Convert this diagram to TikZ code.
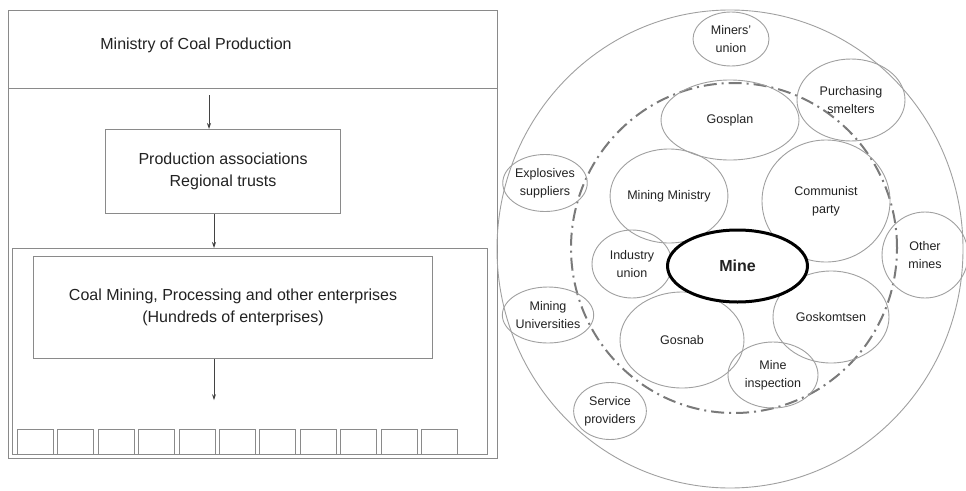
\documentclass[tikz,border=0pt]{standalone}
\usepackage{fontspec}
\setmainfont{Liberation Sans}
\usetikzlibrary{shapes.geometric,arrows.meta}
\definecolor{ink}{HTML}{222222}
\definecolor{frameline}{HTML}{8A8A8A}
\definecolor{ringline}{HTML}{A0A0A0}
\definecolor{dashline}{HTML}{7A7A7A}
\tikzset{
  panel/.style={draw=frameline,line width=1.1pt,rectangle,inner sep=0pt,anchor=north west},
  orgbox/.style={draw=frameline,line width=1.1pt,rectangle,inner sep=0pt,anchor=north west,
    text=ink,align=center,font=\fontsize{16}{22}\selectfont},
  unitbox/.style={draw=frameline,line width=0.9pt,rectangle,inner sep=0pt,anchor=north west,
    minimum width=36pt,minimum height=25pt},
  arr/.style={draw=ink!85,line width=0.8pt,-{Stealth[length=6pt,width=4pt]}},
  actor/.style={draw=ringline,line width=0.9pt,ellipse,inner sep=0pt,text=ink,align=center,
    font=\fontsize{12.5}{18}\selectfont},
  boundary/.style={draw=dashline,line width=2pt,ellipse,inner sep=0pt,
    dash pattern=on 13pt off 5pt on 2pt off 5pt},
}
\begin{document}
\begin{tikzpicture}[x=1pt,y=-1pt]
\useasboundingbox (0,0) rectangle (966,490);
\fill[white] (0,0) rectangle (966,490);

% ---- left panel: administrative hierarchy ----
\node[orgbox,minimum width=489pt,minimum height=78pt] (ministry) at (8,10) {};
\node[text=ink,font=\fontsize{16}{22}\selectfont] (ministrylabel) at (196,45) {Ministry of Coal Production};
\node[panel,minimum width=489pt,minimum height=370pt] (lower) at (8,88) {};
\node[orgbox,minimum width=235pt,minimum height=84pt] (assoc) at (105,129)
  {Production associations\\Regional trusts};
\node[panel,minimum width=475pt,minimum height=206pt] (enterprises) at (12,248) {};
\node[orgbox,minimum width=399pt,minimum height=102pt] (coal) at (33,256)
  {Coal Mining, Processing and other enterprises\\(Hundreds of enterprises)};
\foreach \i in {0,...,10} {
  \node[unitbox] (unit\i) at (17+40.4*\i,429) {};
}
\coordinate (unitsin) at ([xshift=181pt,yshift=-41pt]coal.south west);

\draw[arr] ([xshift=104pt,yshift=-6pt]ministry.south west -| assoc.north west) -- ([xshift=104pt]assoc.north west);
\draw[arr] ([xshift=109pt]assoc.south west) -- ([xshift=109pt]assoc.south west |- enterprises.north);
\draw[arr] ([xshift=181pt]coal.south west) -- (unitsin);

% ---- right panel: the mine and its environment ----
\node[actor,minimum width=466pt,minimum height=478pt] (field) at (730,249) {};
\node[boundary,minimum width=326pt,minimum height=330pt] (core) at (734,248) {};

\node[actor,minimum width=76pt,minimum height=54pt] (miners) at (731,39) {Miners'\\union};
\node[actor,minimum width=108pt,minimum height=82pt] (smelters) at (851,100) {Purchasing\\smelters};
\node[actor,minimum width=138pt,minimum height=80pt] (gosplan) at (730,120) {Gosplan};
\node[actor,minimum width=70pt,minimum height=57pt] (explosives) at (545,183) {Explosives\\suppliers};
\node[actor,minimum width=100pt,minimum height=94pt] (miningmin) at (669,196) {Mining Ministry};
\node[actor,minimum width=128pt,minimum height=122pt] (party) at (826,201) {Communist\\party};
\node[actor,minimum width=86pt,minimum height=86pt] (othermines) at (925,255) {Other\\mines};
\node[actor,minimum width=80pt,minimum height=68pt] (indunion) at (632,264) {Industry\\union};
\node[actor,minimum width=74pt,minimum height=56pt] (univ) at (548,315) {Mining\\Universities};
\node[actor,minimum width=124pt,minimum height=96pt] (gosnab) at (682,340) {Gosnab};
\node[actor,minimum width=116pt,minimum height=92pt] (goskomtsen) at (831,317) {Goskomtsen};
\node[actor,minimum width=90pt,minimum height=66pt] (inspection) at (773,375) {Mine\\inspection};
\node[actor,minimum width=72pt,minimum height=57pt] (service) at (610,411) {Service\\providers};

\node[draw=black,fill=white,line width=3pt,ellipse,inner sep=0pt,
  minimum width=140pt,minimum height=72pt,text=ink,font=\bfseries\fontsize{16}{19}\selectfont]
  (mine) at (737.5,266) {Mine};
\end{tikzpicture}
\end{document}
